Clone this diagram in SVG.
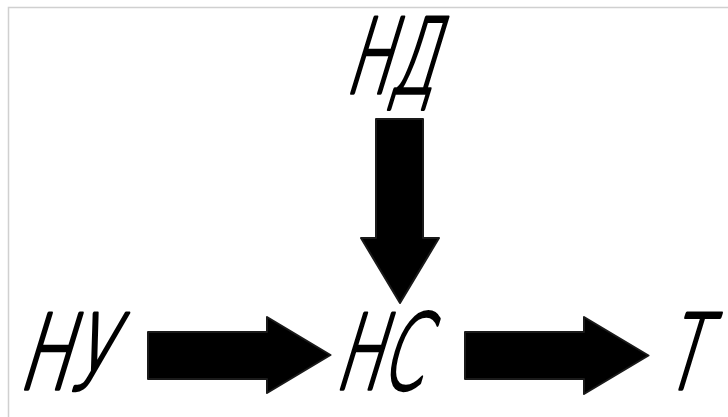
<svg xmlns="http://www.w3.org/2000/svg" width="728" height="417" viewBox="0 0 728 417">
  <style>
    .lbl { font-family: "DejaVu Sans", "Liberation Sans", sans-serif; font-weight: 200; font-size: 104px; fill: #000; stroke: #000; stroke-width: 3.5; stroke-linejoin: round; stroke-linecap: round; text-anchor: middle; }
    .arrow { fill: #000; stroke: #1a1a1a; stroke-width: 2; stroke-linejoin: round; }
  </style>
  <rect x="0" y="0" width="728" height="417" fill="#fff"/>
  <path d="M8.5 417 V7.5 H728" fill="none" stroke="#d0d0d0" stroke-width="1.5"/>
  <g id="node-ND">
    <g transform="translate(389,93) skewX(-17)"><text class="lbl" x="0" y="0" textLength="90" lengthAdjust="spacingAndGlyphs">НД</text></g>
  </g>
  <g id="node-NU">
    <g transform="translate(63,389) skewX(-17)"><text class="lbl" x="0" y="0" textLength="92" lengthAdjust="spacingAndGlyphs">НУ</text></g>
  </g>
  <g id="node-NS">
    <g transform="translate(377.5,389) skewX(-17)"><text class="lbl" x="0" y="0" textLength="88" lengthAdjust="spacingAndGlyphs">НС</text></g>
  </g>
  <g id="node-T">
    <g transform="translate(681,389) skewX(-17)"><text class="lbl" x="0" y="0" textLength="38" lengthAdjust="spacingAndGlyphs">Т</text></g>
  </g>
  <g id="connectors">
    <polygon class="arrow" points="376,119 423,119 423,238 439,238 400,303 361,238 376,238"/>
    <polygon class="arrow" points="148,332 267,332 267,317 330.5,355 267,393 267,379 148,379"/>
    <polygon class="arrow" points="465,332 584,332 584,317 648.5,355.5 584,394 584,379 465,379"/>
  </g>
</svg>
